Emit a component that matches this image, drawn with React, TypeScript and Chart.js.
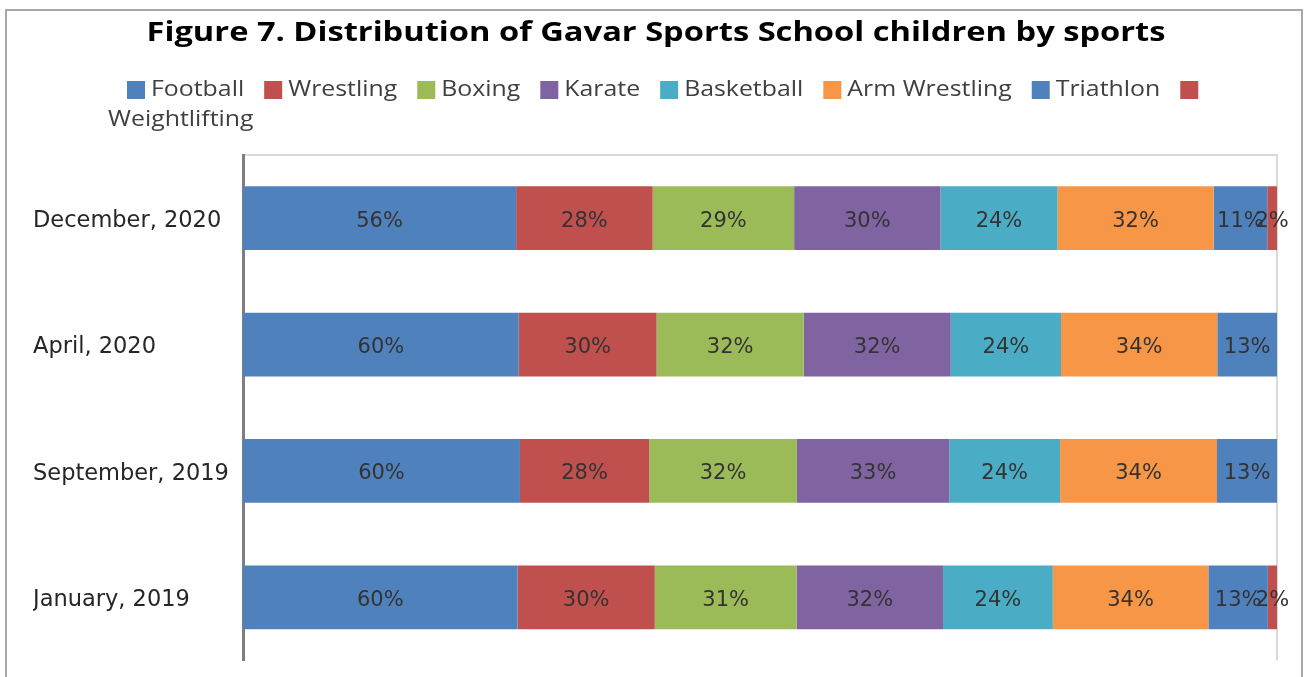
import React, { useEffect, useRef } from "react";
import { Chart, registerables } from "chart.js";

Chart.register(...registerables);

const titleText = "Figure 7. Distribution of Gavar Sports School children by sports";
const categories = ["December, 2020", "April, 2020", "September, 2019", "January, 2019"];
const seriesNames = ["Football", "Wrestling", "Boxing", "Karate", "Basketball", "Arm Wrestling", "Triathlon", "Weightlifting"];
const football = [56, 60, 60, 60];
const wrestling = [28, 30, 28, 30];
const boxing = [29, 32, 32, 31];
const karate = [30, 32, 33, 32];
const basketball = [24, 24, 24, 24];
const armWrestling = [32, 34, 34, 34];
const triathlon = [11, 13, 13, 13];
const weightlifting = [2, 0, 0, 2];
const seriesColors = ["#4F81BD", "#C0504D", "#9BBB59", "#8064A2", "#4BACC6", "#F79646", "#4F81BD", "#C0504D"];

const seriesValues = [football, wrestling, boxing, karate, basketball, armWrestling, triathlon, weightlifting];

const totals = categories.map((_, j) => seriesValues.reduce((s, arr) => s + arr[j], 0));

const frame = {
  id: "frame",
  beforeDraw(chart: any) {
    const { ctx, chartArea } = chart;
    ctx.save();
    ctx.fillStyle = "#ffffff";
    ctx.fillRect(0, 0, chart.width, chart.height);
    ctx.strokeStyle = "#a8a8a8";
    ctx.lineWidth = 2;
    ctx.strokeRect(6, 10, 1296, 720);
    ctx.strokeStyle = "#d9d9d9";
    ctx.lineWidth = 2;
    ctx.beginPath();
    ctx.moveTo(chartArea.left, chartArea.top);
    ctx.lineTo(chartArea.right, chartArea.top);
    ctx.lineTo(chartArea.right, chartArea.bottom);
    ctx.stroke();
    ctx.restore();
  },
};

const titleAndLegend = {
  id: "titleAndLegend",
  afterDraw(chart: any) {
    const ctx = chart.ctx;
    // title (horizontally stretched like the source)
    ctx.save();
    ctx.font = "bold 26px 'Open Sans'";
    ctx.fillStyle = "#000000";
    ctx.textAlign = "center";
    ctx.textBaseline = "middle";
    const sx = 1.255;
    ctx.translate(656, 34);
    ctx.scale(sx, 1);
    ctx.fillText(titleText, 0, 0);
    ctx.restore();

    // legend
    ctx.save();
    ctx.font = "22px 'Open Sans'";
    ctx.textBaseline = "middle";
    ctx.textAlign = "left";
    const ls = 1.13;
    let x = 127;
    const y1 = 90;
    const y2 = 120;
    seriesNames.forEach((name, i) => {
      ctx.fillStyle = seriesColors[i];
      ctx.fillRect(x, y1 - 9, 18, 18);
      ctx.fillStyle = "#404040";
      const w = ctx.measureText(name).width * ls;
      if (i === seriesNames.length - 1) {
        ctx.save();
        ctx.translate(108, y2);
        ctx.scale(ls, 1);
        ctx.fillText(name, 0, 0);
        ctx.restore();
      } else {
        ctx.save();
        ctx.translate(x + 24, y1);
        ctx.scale(ls, 1);
        ctx.fillText(name, 0, 0);
        ctx.restore();
        x += 24 + w + 20;
      }
    });
    ctx.restore();
  },
};

const valueLabels = {
  id: "valueLabels",
  afterDatasetsDraw(chart: any) {
    const ctx = chart.ctx;
    ctx.save();
    ctx.font = "21px 'DejaVu Sans'";
    ctx.fillStyle = "#333333";
    ctx.textAlign = "center";
    ctx.textBaseline = "middle";
    chart.data.datasets.forEach((ds: any, i: number) => {
      const meta = chart.getDatasetMeta(i);
      meta.data.forEach((bar: any, j: number) => {
        const v = ds.rawValues[j];
        if (!v) return;
        const cx = (bar.x + bar.base) / 2;
        ctx.fillText(v + "%", cx, bar.y + 3);
      });
    });
    ctx.restore();
  },
};

export default function App() {
  const ref = useRef<HTMLCanvasElement | null>(null);
  useEffect(() => {
    if (!ref.current) return;
    const chart = new Chart(ref.current, {
      type: "bar",
      data: {
        labels: categories,
        datasets: seriesNames.map((name, i) => ({
          label: name,
          data: seriesValues[i].map((v, j) => (v / totals[j]) * 100),
          rawValues: seriesValues[i],
          backgroundColor: seriesColors[i],
          borderWidth: 0,
          barPercentage: 0.504,
          categoryPercentage: 1,
        })) as any,
      },
      options: {
        indexAxis: "y",
        responsive: false,
        animation: false,
        layout: { padding: { left: 33, right: 29, top: 155, bottom: 12 } },
        plugins: {
          legend: { display: false },
          tooltip: { enabled: false },
          title: { display: false },
        },
        scales: {
          x: {
            stacked: true,
            min: 0,
            max: 100,
            display: false,
          },
          y: {
            stacked: true,
            grid: { display: false },
            border: { display: true, color: "#7f7f7f", width: 3 },
            ticks: {
              crossAlign: "far",
              labelOffset: 3,
              color: "#262626",
              font: { family: "'DejaVu Sans'", size: 22.5 },
            },
            afterFit(scale: any) {
              scale.width = 210;
            },
          },
        },
      },
      plugins: [frame, valueLabels, titleAndLegend],
    });
    return () => chart.destroy();
  }, []);
  return (
    <div style={{ position: "absolute", left: 0, top: 0, width: 1306, height: 677 }}>
      <canvas ref={ref} width={1306} height={677} />
    </div>
  );
}
